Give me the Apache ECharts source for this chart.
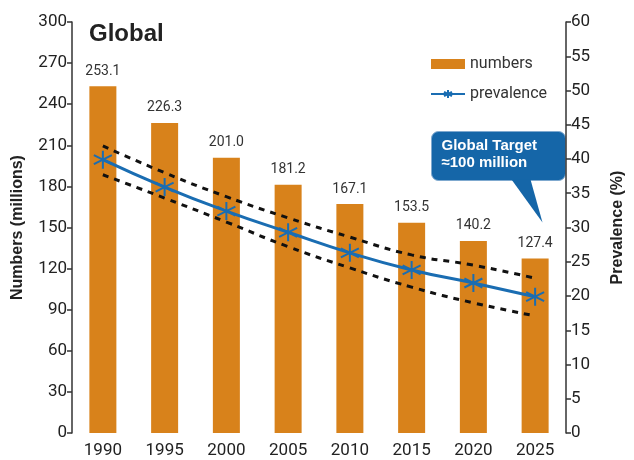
<!DOCTYPE html>
<html><head><meta charset="utf-8">
<script src="https://cdn.jsdelivr.net/npm/echarts@6/dist/echarts.min.js"></script>
<style>html,body{margin:0;padding:0;background:#fff}#c{width:634px;height:460px}</style>
</head><body><div id="c"></div>
<script>
const years = ['1990','1995','2000','2005','2010','2015','2020','2025'];
const numbers = [253.1, 226.3, 201.0, 181.2, 167.1, 153.5, 140.2, 127.4];
const prevalence = [39.9, 35.9, 32.4, 29.3, 26.3, 23.8, 21.9, 19.9];
const prevUpper = [41.9, 38.0, 34.5, 31.4, 28.6, 26.0, 24.5, 22.6];
const prevLower = [37.7, 34.3, 30.8, 27.2, 24.1, 21.3, 19.0, 17.1];
const leftTicks = [0, 30, 60, 90, 120, 150, 180, 210, 240, 270, 300];
const rightTicks = [0, 5, 10, 15, 20, 25, 30, 35, 40, 45, 50, 55, 60];

const FONT = "Roboto,'Liberation Sans',sans-serif";
const BAR = '#D8821B', BLUE = '#1A6DB2';
const star = 'path://M0,-10L0,10M-8.66,-5L8.66,5M-8.66,5L8.66,-5';

const chart = echarts.init(document.getElementById('c'));
chart.setOption({
  animation: false,
  textStyle: {fontFamily: FONT},
  grid: {left: 72, right: 59, top: 22, bottom: 27, containLabel: false},
  legend: {
    data: [{name: 'numbers', icon: 'rect'}, {name: 'prevalence'}],
    orient: 'vertical', left: 425, top: 51, itemWidth: 34, itemHeight: 10, itemGap: 14,
    textStyle: {fontFamily: FONT, fontSize: 16, color: '#333'}
  },
  xAxis: {
    type: 'category', data: years,
    axisLine: {show: false}, axisTick: {show: false},
    axisLabel: {fontSize: 17, color: '#222', margin: 9}
  },
  yAxis: [{
    type: 'value', min: 0, max: 300, interval: 30, position: 'left',
    name: 'Numbers (millions)', nameLocation: 'middle', nameGap: 46, nameRotate: 90,
    nameTextStyle: {fontSize: 16, fontWeight: 'bold', color: '#222', fontFamily: "'Liberation Sans',sans-serif"},
    axisLine: {show: true, lineStyle: {color: '#333', width: 1.5}},
    axisTick: {show: true, length: 5, lineStyle: {color: '#333', width: 1.5}},
    axisLabel: {fontSize: 17, color: '#222', margin: 5},
    splitLine: {show: false}
  }, {
    type: 'value', min: 0, max: 60, interval: 5, position: 'right',
    name: 'Prevalence (%)', nameLocation: 'middle', nameGap: 40, nameRotate: 90,
    nameTextStyle: {fontSize: 16, fontWeight: 'bold', color: '#222', fontFamily: "'Liberation Sans',sans-serif", verticalAlign: 'top', padding: [4, 0, 0, 0]},
    axisLine: {show: true, lineStyle: {color: '#333', width: 1.5}},
    axisTick: {show: true, length: 5, lineStyle: {color: '#333', width: 1.5}},
    axisLabel: {fontSize: 17, color: '#222', margin: 5},
    splitLine: {show: false}
  }],
  series: [{
    name: 'numbers', type: 'bar', data: numbers, barWidth: 27,
    itemStyle: {color: BAR},
    label: {show: true, position: 'top', distance: 8, fontSize: 14, color: '#333', formatter: p => p.value.toFixed(1)}
  }, {
    name: 'upper', type: 'line', yAxisIndex: 1, data: prevUpper, smooth: true, symbol: 'none',
    lineStyle: {color: '#111', width: 3, type: [6, 6]}, z: 3
  }, {
    name: 'lower', type: 'line', yAxisIndex: 1, data: prevLower, smooth: true, symbol: 'none',
    lineStyle: {color: '#111', width: 3, type: [6, 6]}, z: 3
  }, {
    name: 'prevalence', type: 'line', yAxisIndex: 1, data: prevalence, smooth: true,
    symbol: star, symbolSize: 18, showAllSymbol: true,
    itemStyle: {color: BLUE, borderColor: BLUE, borderWidth: 2},
    lineStyle: {color: BLUE, width: 3}, z: 4
  }],
  graphic: [{
    type: 'text', left: 89, top: 22,
    style: {text: 'Global', font: "bold 24px 'Liberation Sans',sans-serif", fill: '#222'}
  }, {
    type: 'group', left: 431, top: 131,
    children: [{
      type: 'rect', shape: {x: 0, y: 0, width: 134, height: 49, r: 7},
      style: {fill: '#1566A8', stroke: '#7fa9cf', lineWidth: 1}
    }, {
      type: 'polygon', shape: {points: [[80, 48], [99, 48], [111, 91]]},
      style: {fill: '#1566A8'}
    }, {
      type: 'text', x: 10, y: 6,
      style: {text: 'Global Target\n≈100 million', font: "bold 15px 'Liberation Sans',sans-serif", fill: '#fff', lineHeight: 17}
    }]
  }]
});
</script></body></html>
